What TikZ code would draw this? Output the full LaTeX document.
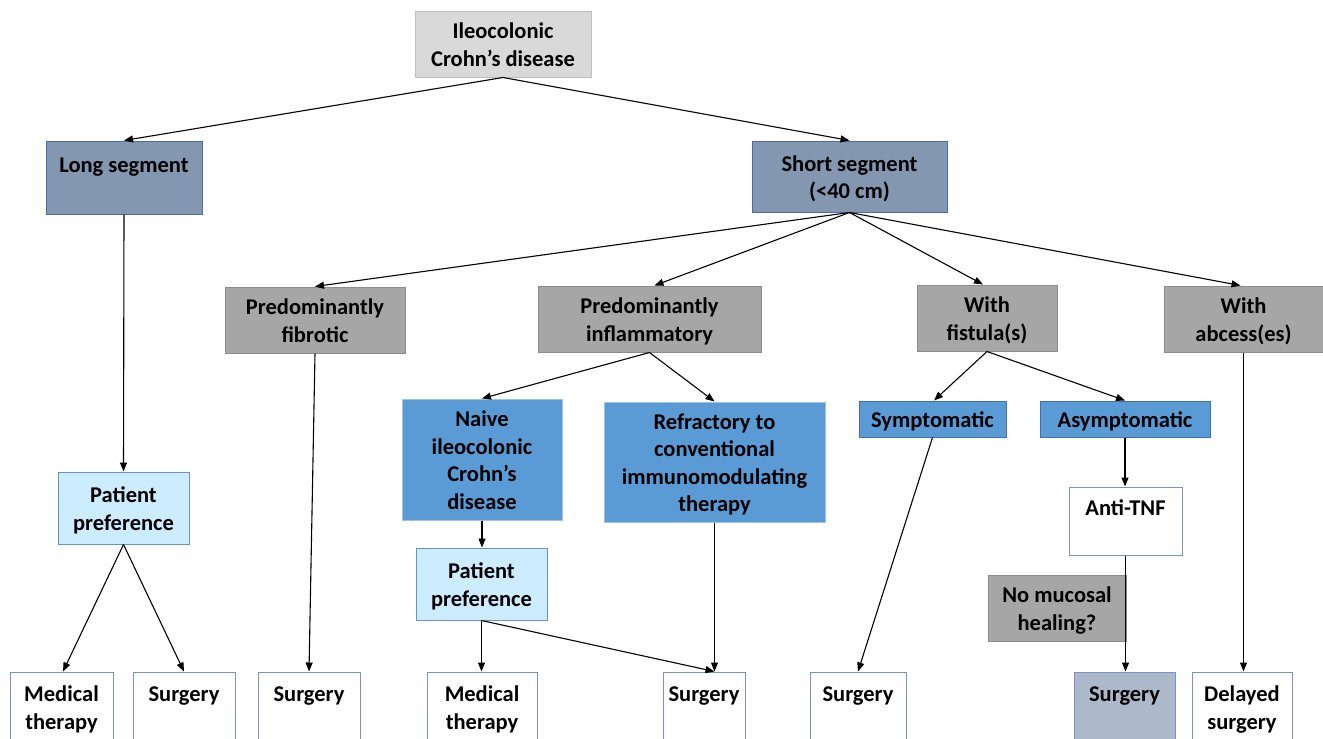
\documentclass[tikz,border=0pt]{standalone}
\usepackage{fontspec}
\setmainfont{Carlito}
\usetikzlibrary{arrows.meta}
\definecolor{topfill}{HTML}{D9D9D9}
\definecolor{topdraw}{HTML}{BFBFBF}
\definecolor{segfill}{HTML}{8497B0}
\definecolor{segdraw}{HTML}{4A6BB0}
\definecolor{grayfill}{HTML}{A6A6A6}
\definecolor{graydraw}{HTML}{8C8C8C}
\definecolor{bluefill}{HTML}{5B9BD5}
\definecolor{bluedrawlt}{HTML}{9DC3E6}
\definecolor{bluedraw}{HTML}{3F6FB5}
\definecolor{ppfill}{HTML}{CCECFF}
\definecolor{ppdraw}{HTML}{6F8FCB}
\definecolor{wdraw}{HTML}{7A93C6}
\definecolor{surgfill}{HTML}{ADB9CA}
\newcommand\st{\rule[-5.25pt]{0pt}{27.5pt}}
\begin{document}
\begin{tikzpicture}[x=1pt,y=-1pt,
  box/.style={draw, line width=1pt, inner sep=0pt, align=center,
    font=\fontsize{22.5}{27.5}\selectfont\bfseries},
  topbox/.style={box, fill=topfill, draw=topdraw},
  segbox/.style={box, fill=segfill, draw=segdraw},
  graybox/.style={box, fill=grayfill, draw=graydraw},
  bluebox/.style={box, fill=bluefill, draw=bluedrawlt},
  blueboxd/.style={box, fill=bluefill, draw=bluedraw},
  ppbox/.style={box, fill=ppfill, draw=ppdraw},
  wbox/.style={box, fill=white, draw=wdraw},
  sz/.style 2 args={minimum width=#1pt, minimum height=#2pt},
  arr/.style={draw, line width=1.1pt, -{Triangle[length=9pt,width=7pt]}}]
\useasboundingbox (0,0) rectangle (1323,739);
\clip (0,0) rectangle (1323,739);
\fill[white] (0,0) rectangle (1323,739);

\node[topbox, sz={176}{66}] (top) at (503,44) {\st Ileocolonic\\ \st Crohn’s disease};
\node[segbox, sz={156}{73}] (long) at (124,177.5) {\st Long segment\\ \st};
\node[segbox, sz={195}{71}] (short) at (849.5,176.5) {\st Short segment\\ \st (<40 cm)};

\node[graybox, sz={180}{66}] (fib) at (315,320) {\st Predominantly\\ \st fibrotic};
\node[graybox, sz={223}{66}] (infl) at (649.5,319) {\st Predominantly\\ \st inflammatory};
\node[graybox, sz={140}{66}] (fist) at (987,318) {\st With\\ \st fistula(s)};
\node[graybox, sz={159}{66}] (abc) at (1243.5,319) {\st With\\ \st abcess(es)};

\node[bluebox, sz={160}{121}] (naive) at (482,459.5) {\st Naive\\ \st ileocolonic\\ \st Crohn’s\\ \st disease};
\node[bluebox, sz={221}{120}] (refr) at (714.5,462) {\st Refractory to\\ \st conventional\\ \st immunomodulating\\ \st therapy};
\node[blueboxd, sz={147}{36}] (symp) at (932.5,419) {\st Symptomatic};
\node[blueboxd, sz={170}{36}] (asym) at (1125,419) {\st Asymptomatic};

\node[ppbox, sz={131}{72}] (pp1) at (123.5,508) {\st Patient\\ \st preference};
\node[ppbox, sz={131}{72}] (pp2) at (481.5,584) {\st Patient\\ \st preference};
\node[wbox, sz={113}{68}] (anti) at (1125.5,521) {\st Anti-TNF\\ \st};
\node[graybox, sz={138}{66}] (nomuc) at (1057,608) {\st No mucosal\\ \st healing?};

\node[wbox, sz={103}{70}] (m1) at (61.5,707) {\st Medical\\ \st therapy};
\node[wbox, sz={102}{70}] (s1) at (184,707) {\st Surgery\\ \st};
\node[wbox, sz={102}{70}] (s2) at (309,707) {\st Surgery\\ \st};
\node[wbox, sz={110}{70}] (m2) at (482,707) {\st Medical\\ \st therapy};
\node[wbox, sz={82}{70}] (s3) at (704,707) {\st Surgery\\ \st};
\node[wbox, sz={96}{70}] (s4) at (858,707) {\st Surgery\\ \st};
\node[wbox, fill=surgfill, sz={101}{70}] (s5) at (1124.5,707) {\st Surgery\\ \st};
\node[wbox, sz={100}{70}] (d) at (1242,707) {\st Delayed\\ \st surgery};

\draw[arr] (top.south) -- (long.north);
\draw[arr] (top.south) -- (short.north);
\draw[arr] (long.south) -- (pp1.north);
\draw[arr] (short.south) -- (fib.north);
\draw[arr] (short.south) -- ([xshift=5pt]infl.north);
\draw[arr] (short.south) -- ([xshift=-4pt]fist.north);
\draw[arr] (short.south) -- ([xshift=-3pt]abc.north);
\draw[arr] (fib.south) -- (s2.north);
\draw[arr] (infl.south) -- (naive.north);
\draw[arr] (infl.south) -- (refr.north);
\draw[arr] (fist.south) -- ([xshift=1.5pt]symp.north);
\draw[arr] (fist.south) -- (asym.north);
\draw[arr] (abc.south) -- (abc.south |- d.north);
\draw[arr] (naive.south) -- (naive.south |- pp2.north);
\draw[arr] (pp1.south) -- ([xshift=1.5pt]m1.north);
\draw[arr] (pp1.south) -- (s1.north);
\draw[arr] (pp2.south) -- (pp2.south |- m2.north);
\draw[arr] (pp2.south) -- (refr.south |- s3.north);
\draw[arr] (refr.south) -- (refr.south |- s3.north);
\draw[arr] (symp.south) -- (s4.north);
\draw[arr] (asym.south) -- (asym.south |- anti.north);
\draw[arr] (anti.south) -- (anti.south |- s5.north);
\end{tikzpicture}
\end{document}
